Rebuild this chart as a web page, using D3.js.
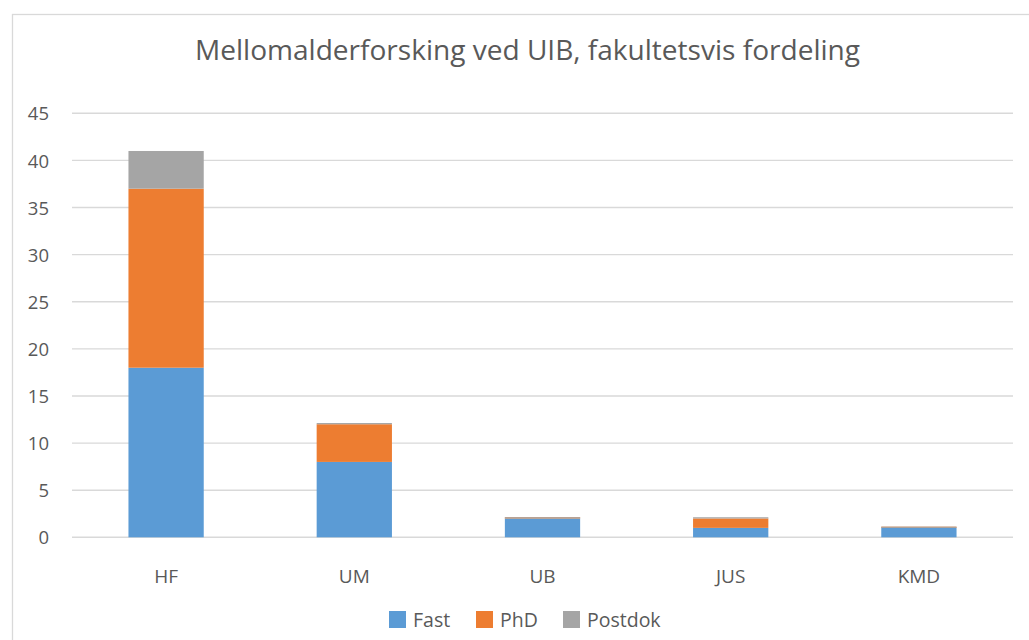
<html>
<head>
<meta charset="utf-8">
<style type="text/css">
  body { margin: 0; background: #fff; }
  text { font-family: "Open Sans", "Noto Sans", sans-serif; fill: #595959; }
  .grid line { stroke: #d9d9d9; stroke-width: 1.4px; }
</style>
</head>
<body>
<svg id="chart" width="1029" height="640"></svg>
<script src="https://cdn.jsdelivr.net/npm/d3@7"></script>
<script>
  var svg = d3.select("#chart"),
    width = +svg.attr("width"),
    height = +svg.attr("height");

  // DATA
  var categories = ["HF", "UM", "UB", "JUS", "KMD"];
  var fast = [18, 8, 2, 1, 1];
  var phd = [19, 4, 0, 1, 0];
  var postdok = [4, 0, 0, 0, 0];
  var seriesNames = ["Fast", "PhD", "Postdok"];
  var seriesColours = ["#5b9bd5", "#ed7d31", "#a5a5a5"];
  var yTicks = [0, 5, 10, 15, 20, 25, 30, 35, 40, 45];

  var rows = categories.map(function(c, i) {
    return { cat: c, Fast: fast[i], PhD: phd[i], Postdok: postdok[i] };
  });

  // outer frame
  svg.append("rect")
    .attr("x", 12.5).attr("y", 14.5)
    .attr("width", 1030).attr("height", 640)
    .attr("fill", "none")
    .attr("stroke", "#d9d9d9")
    .attr("stroke-width", 1.3);

  var x = d3.scaleBand()
    .domain(categories)
    .range([72, 1013])
    .paddingInner(0.6)
    .paddingOuter(0.3);

  var y = d3.scaleLinear()
    .domain([0, 45])
    .range([537.3, 113.3]);

  // gridlines
  svg.append("g")
    .attr("class", "grid")
    .selectAll("line")
    .data(yTicks)
    .enter()
    .append("line")
    .attr("x1", 72).attr("x2", 1013)
    .attr("y1", function(d) { return y(d); })
    .attr("y2", function(d) { return y(d); });

  // y axis labels
  var yAxis = d3.axisLeft(y).tickValues(yTicks).tickSize(0).tickPadding(0);
  var yg = svg.append("g")
    .attr("transform", "translate(49,0)")
    .call(yAxis);
  yg.select(".domain").remove();
  yg.selectAll("text")
    .attr("font-size", 18.5)
    .attr("font-family", null)
    .attr("fill", null)
    .attr("dy", "0.36em");

  // stacked bars
  var stack = d3.stack().keys(seriesNames);
  var layers = stack(rows);

  svg.append("g")
    .selectAll("g")
    .data(layers)
    .enter()
    .append("g")
    .attr("fill", function(d, i) { return seriesColours[i]; })
    .selectAll("rect")
    .data(function(d) { return d; })
    .enter()
    .append("rect")
    .attr("x", function(d) { return x(d.data.cat); })
    .attr("width", x.bandwidth())
    .attr("y", function(d) {
      var h = y(d[0]) - y(d[1]);
      return h > 0 ? y(d[1]) : y(d[1]) - 1.2;
    })
    .attr("height", function(d) {
      var h = y(d[0]) - y(d[1]);
      return h > 0 ? h : 1.2;
    });

  // x axis labels
  var xAxis = d3.axisBottom(x).tickSize(0).tickPadding(0);
  var xg = svg.append("g")
    .attr("transform", "translate(0,583)")
    .call(xAxis);
  xg.select(".domain").remove();
  xg.selectAll("text")
    .attr("font-size", 19)
    .attr("font-family", null)
    .attr("fill", null)
    .attr("dy", 0);

  // title
  svg.append("text")
    .attr("x", 527.5)
    .attr("y", 60)
    .attr("text-anchor", "middle")
    .attr("font-size", 27)
    .attr("textLength", 665)
    .attr("lengthAdjust", "spacingAndGlyphs")
    .text("Mellomalderforsking ved UIB, fakultetsvis fordeling");

  // legend
  var legendX = [389, 476, 563];
  var legend = svg.append("g")
    .selectAll("g")
    .data(seriesNames)
    .enter()
    .append("g")
    .attr("transform", function(d, i) { return "translate(" + legendX[i] + ",611)"; });

  legend.append("rect")
    .attr("width", 17)
    .attr("height", 17)
    .attr("fill", function(d, i) { return seriesColours[i]; });

  legend.append("text")
    .attr("x", 24)
    .attr("y", 16)
    .attr("font-size", 19.5)
    .text(function(d) { return d; });
</script>
</body>
</html>
